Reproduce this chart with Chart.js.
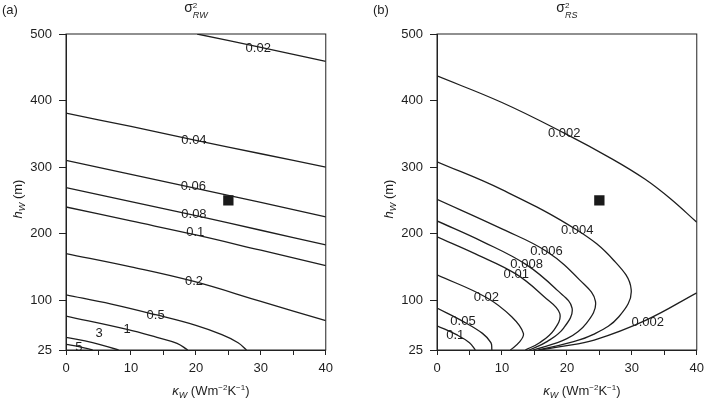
<!DOCTYPE html>
<html>
<head>
<meta charset="utf-8">
<script src="https://cdn.jsdelivr.net/npm/chart.js@4.4.1/dist/chart.umd.min.js"></script>
<style>
  html, body { margin: 0; padding: 0; background: #fff; overflow: hidden; }
  #wrap { position: relative; width: 710px; height: 407px; }
  .panel { position: absolute; top: 0; }
</style>
</head>
<body>
<div id="wrap">
  <div class="panel" style="left:0"><canvas id="chartA" width="339" height="407"></canvas></div>
  <div class="panel" style="left:371px"><canvas id="chartB" width="339" height="407"></canvas></div>
</div>
<script>
// axes
const xTicks = [0, 5, 10, 15, 20, 25, 30, 35, 40];
const yTicks = [25, 100, 200, 300, 400, 500];
const marker = [[25, 250]];

// (a) sigma^2 RW contours, [kappa, h]
const rwLevels = ['0.02', '0.04', '0.06', '0.08', '0.1', '0.2', '0.5', '1', '3', '5'];
const rw002 = [[20.2, 500], [30, 480], [40, 459]];
const rw004 = [[0, 381], [10, 361], [20, 340], [30, 320], [40, 300]];
const rw006 = [[0, 310], [10, 289], [20, 268], [30, 247], [40, 225]];
const rw008 = [[0, 269], [10, 248], [20, 227], [30, 205], [40, 183]];
const rw01 = [[0, 240], [10, 219], [20, 198], [30, 175], [40, 152]];
const rw02 = [[0, 170], [10, 150], [19.7, 128], [30, 98], [40, 69]];
const rw05 = [[0, 108], [7, 94], [13.8, 78], [20, 62], [24, 48], [26.5, 36], [27.8, 25]];
const rw1 = [[0, 76], [9.4, 56], [14, 44], [17.1, 35], [18.75, 25]];
const rw3 = [[0, 44], [4.1, 36], [8.1, 25]];
const rw5 = [[0, 33.5], [2, 30], [4.1, 25]];
const rwCurves = [rw002, rw004, rw006, rw008, rw01, rw02, rw05, rw1, rw3, rw5];
const rwLabelAt = [[29.6, 479], [19.7, 340], [19.6, 271], [19.7, 229], [19.9, 201],
                   [19.7, 128], [13.8, 77], [9.4, 56], [5.1, 50], [2, 29]];

// (b) sigma^2 RS contours
const rsLevels = ['0.002', '0.002', '0.004', '0.006', '0.008', '0.01', '0.02', '0.05', '0.1'];
const rs002a = [[0, 437], [10, 397], [19.6, 351], [27, 312], [32, 282], [36, 252], [40, 217]];
const rs002b = [[40, 111], [32.2, 70], [24.2, 40], [19, 30], [15.8, 25]];
const rs004 = [[0, 308], [10, 266], [21.6, 205], [27.2, 160], [29.9, 116], [28, 75], [24, 48], [20, 35], [15.6, 25]];
const rs006 = [[0, 251.5], [10, 207], [16.9, 173], [22, 130], [24.4, 98], [23, 65], [20, 42], [14.8, 25]];
const rs008 = [[0, 219], [7, 188], [13.8, 153], [18.5, 115], [20.8, 88], [19.5, 58], [17, 38], [14.2, 25]];
const rs01 = [[0, 195], [6, 169], [12.2, 139], [16.5, 105], [18.9, 80], [18, 55], [15.8, 36], [13.6, 25]];
const rs02 = [[0, 138], [7.6, 104], [11.5, 75], [13.3, 50], [12.6, 36], [11.3, 25]];
const rs05 = [[0, 88], [4, 68], [7, 50], [8.3, 36], [8.45, 25]];
const rs1 = [[0, 61.5], [3, 48], [5, 36], [5.9, 25]];
const rsCurves = [rs002a, rs002b, rs004, rs006, rs008, rs01, rs02, rs05, rs1];
const rsLabelAt = [[19.6, 351], [32.45, 67], [21.6, 205], [16.85, 173], [13.8, 153],
                   [12.2, 139], [7.6, 104], [4.0, 67.5], [2.8, 47.5]];

const FONT = '"Liberation Sans", Arial, Helvetica, sans-serif';
const INK = '#1e1e1e';

function fontOf(r) {
  return (r.italic ? 'italic ' : '') + (r.size || 13) + 'px ' + FONT;
}

// draws a row of text pieces with sub/superscripts
function drawRuns(ctx, runs, x, y, align) {
  let w = 0;
  runs.forEach(r => {
    ctx.font = fontOf(r);
    if (r.adv !== false) w += ctx.measureText(r.t).width;
  });
  let cx = align === 'center' ? x - w / 2 : x;
  ctx.textAlign = 'left';
  ctx.textBaseline = 'alphabetic';
  runs.forEach(r => {
    ctx.font = fontOf(r);
    ctx.fillText(r.t, cx, y + (r.dy || 0));
    if (r.adv !== false) cx += ctx.measureText(r.t).width;
  });
}

const decorPlugin = {
  id: 'decor',
  afterDraw(chart, args, opts) {
    const ctx = chart.ctx;
    const a = chart.chartArea;
    const xs = chart.scales.x, ys = chart.scales.y;
    ctx.save();
    // frame
    ctx.strokeStyle = '#222';
    ctx.lineWidth = 1;
    ctx.strokeRect(a.left, a.top, a.right - a.left, a.bottom - a.top);

    // contour labels
    ctx.fillStyle = INK;
    ctx.font = '13px ' + FONT;
    ctx.textAlign = 'center';
    ctx.textBaseline = 'middle';
    opts.levels.forEach((t, i) => {
      const p = opts.labelAt[i];
      ctx.fillText(t, xs.getPixelForValue(p[0]), ys.getPixelForValue(p[1]));
    });

    // panel tag
    ctx.font = '13px ' + FONT;
    ctx.textAlign = 'left';
    ctx.textBaseline = 'alphabetic';
    ctx.fillText(opts.tag, 2, 14);

    // title sigma^2 with subscript
    const mid = (a.left + a.right) / 2;
    drawRuns(ctx, [
      { t: 'σ', size: 14 },
      { t: '2', size: 8, dy: -4, adv: false },
      { t: opts.sub, size: 9, italic: true, dy: 6 }
    ], mid, 12, 'center');

    // x title
    drawRuns(ctx, [
      { t: 'κ', italic: true },
      { t: 'W', size: 9, italic: true, dy: 3 },
      { t: ' (Wm' },
      { t: '−2', size: 8, dy: -5 },
      { t: 'K' },
      { t: '−1', size: 8, dy: -5 },
      { t: ')' }
    ], mid + 15, 395, 'center');

    // y title
    ctx.translate(22, (a.top + a.bottom) / 2 + 7);
    ctx.rotate(-Math.PI / 2);
    drawRuns(ctx, [
      { t: 'h', italic: true },
      { t: 'W', size: 9, italic: true, dy: 3 },
      { t: ' (m)' }
    ], 0, 0, 'center');
    ctx.restore();
  }
};

function makeChart(id, curves, levels, labelAt, tag, sub) {
  const sets = curves.map(c => ({
    data: c.map(p => ({ x: p[0], y: p[1] })),
    showLine: true,
    borderColor: INK,
    borderWidth: 1.3,
    pointRadius: 0,
    tension: 0.4,
    fill: false
  }));
  sets.push({
    data: marker.map(p => ({ x: p[0], y: p[1] })),
    showLine: false,
    pointStyle: 'rect',
    pointRadius: 7.3,
    backgroundColor: '#1a1a1a',
    borderWidth: 0
  });

  return new Chart(document.getElementById(id), {
    type: 'scatter',
    data: { datasets: sets },
    options: {
      responsive: false,
      animation: false,
      layout: { padding: { top: 34, right: 7, left: 0, bottom: 0 } },
      plugins: {
        legend: { display: false },
        tooltip: { enabled: false },
        decor: { levels: levels, labelAt: labelAt, tag: tag, sub: sub }
      },
      scales: {
        x: {
          type: 'linear',
          min: 0,
          max: 40,
          afterBuildTicks: s => { s.ticks = xTicks.map(v => ({ value: v })); },
          afterFit: s => { s.height = 57; },
          ticks: {
            padding: 6,
            color: INK,
            font: { family: FONT, size: 13 },
            maxRotation: 0,
            autoSkip: false,
            callback: v => (v % 10 === 0 ? v : '')
          },
          grid: { drawOnChartArea: false, tickLength: 5, color: '#222' },
          border: { color: '#222', width: 1 }
        },
        y: {
          type: 'linear',
          min: 25,
          max: 500,
          afterBuildTicks: s => { s.ticks = yTicks.map(v => ({ value: v })); },
          afterFit: s => { s.width = 66; },
          ticks: {
            padding: 7,
            color: INK,
            font: { family: FONT, size: 13 },
            autoSkip: false
          },
          grid: { drawOnChartArea: false, tickLength: 7, color: '#222' },
          border: { color: '#222', width: 1 }
        }
      }
    },
    plugins: [decorPlugin]
  });
}

makeChart('chartA', rwCurves, rwLevels, rwLabelAt, '(a)', 'RW');
makeChart('chartB', rsCurves, rsLevels, rsLabelAt, '(b)', 'RS');
</script>
</body>
</html>
